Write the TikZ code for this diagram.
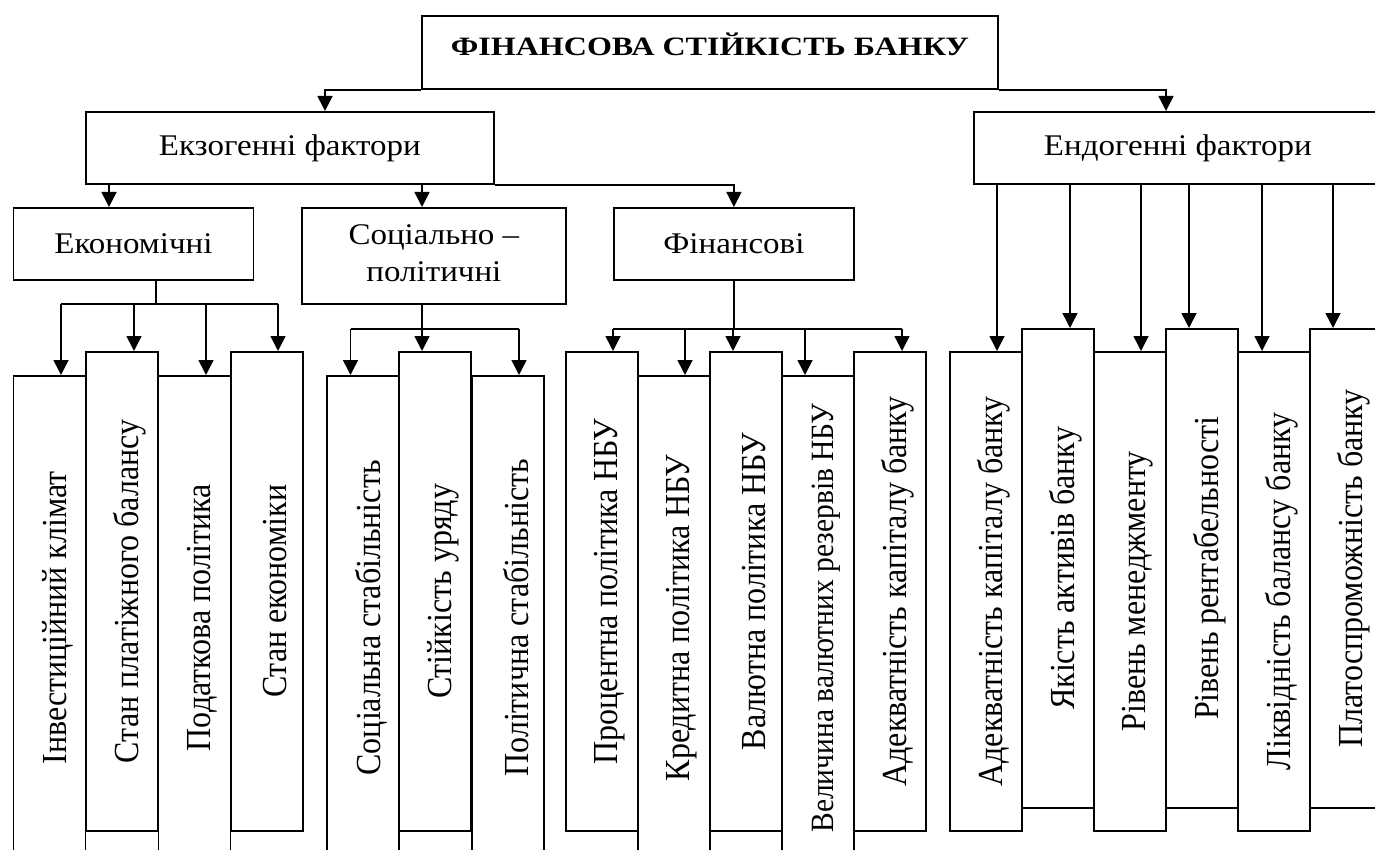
\documentclass[tikz,border=0pt]{standalone}
\usepackage{fontspec}
\setmainfont{Liberation Serif}
\usepackage{graphicx}
\usetikzlibrary{arrows.meta}

\newcommand{\htxt}[1]{\scalebox{1.1}[1]{#1}}
\newcommand{\vtxt}[1]{\hspace{16pt}\scalebox{1.1}[1]{\rotatebox{90}{#1}}}

\tikzset{
  box/.style={draw, line width=1.8pt, inner sep=0pt, anchor=north west, font=\fontsize{30}{37}\selectfont},
  vbox/.style={box, minimum width=72pt, font=\fontsize{32}{38}\selectfont},
  arr/.style={line width=1.5pt, -{Triangle[length=15pt,width=15pt]}},
  ln/.style={line width=1.5pt}
}

\begin{document}
\begin{tikzpicture}[x=1pt, y=-1pt]
 \useasboundingbox (0,0) rectangle (1375,850);
 \clip (0,0) rectangle (1375,850);
  \node[box, minimum width=576pt, minimum height=73pt, text height=18pt, text depth=11pt, font=\fontsize{26.5}{30}\selectfont\bfseries] (top) at (421,15) {\scalebox{1.21}[1]{ФІНАНСОВА СТІЙКІСТЬ БАНКУ}};
  \node[box, minimum width=408pt, minimum height=72pt] (exo) at (85,111) {\htxt{Екзогенні фактори}};
  \node[box, minimum width=408pt, minimum height=72pt] (endo) at (973,111) {\htxt{Ендогенні фактори}};
  \node[box, minimum width=240pt, minimum height=72pt] (eco) at (12.5,207) {\htxt{Економічні}};
  \node[box, minimum width=264pt, minimum height=96pt] (soc) at (301,207) {\htxt{\begin{tabular}{@{}c@{}}Соціально –\\політичні\end{tabular}}};
  \node[box, minimum width=240pt, minimum height=72pt] (fin) at (613,207) {\htxt{Фінансові}};
  \foreach \n/\x/\y/\h/\t in {
    e1/12.5/375/484/Інвестиційний клімат, e2/85/351/479/Стан платіжного балансу,
    e3/157.5/375/484/Податкова політика, e4/230/351/479/Стан економіки,
    s1/326/375/484/Соціальна стабільність, s2/398/351/479/Стійкість уряду,
    s3/471/375/484/Політична стабільність,
    f1/565/351/479/Процентна політика НБУ, f2/637/375/484/Кредитна політика НБУ,
    f3/709/351/479/Валютна політика НБУ,
    f4/781/375/484/{\fontsize{29.5}{35}\selectfont Величина валютних резервів НБУ},
    f5/853/351/479/Адекватність капіталу банку,
    d1/949/351/479/Адекватність капіталу банку, d2/1021/328/479/Якість активів банку,
    d3/1093/351/479/Рівень менеджменту, d4/1165/328/479/Рівень рентабельності,
    d5/1237/351/479/Ліквідність балансу банку, d6/1309/328/479/Платоспроможність банку}
  \node[vbox, minimum height=\h pt] (\n) at (\x,\y) {\vtxt{\t}};
  \draw[arr] (top.south west) -| ([xshift=240pt]exo.north west);
  \draw[arr] (top.south east) -| ([xshift=193pt]endo.north west);
  \draw[arr] (exo.south east) -| (fin.north);
  \draw[arr] ([xshift=24pt]exo.south west) -- ([xshift=96.5pt]eco.north west);
  \draw[arr] ([xshift=337pt]exo.south west) -- ([xshift=121pt]soc.north west);
  \draw[ln] ([xshift=143.5pt]eco.south west) -- ++(0,23) coordinate (eb);
  \foreach \i/\d in {1/48.5,2/49,3/48.5,4/48}{
  \coordinate (ea\i) at ([xshift=\d pt]e\i.north west);
  \draw[arr] (ea\i |- eb) -- (ea\i);
  }
  \draw[ln] (ea1 |- eb) -- (ea4 |- eb);
  \draw[ln] ([xshift=121pt]soc.south west) -- ++(0,24) coordinate (sb);
  \foreach \i/\d in {1/24.5,2/24,3/48}{
  \coordinate (sa\i) at ([xshift=\d pt]s\i.north west);
  \draw[arr] (sa\i |- sb) -- (sa\i);
  }
  \draw[ln] (sa1 |- sb) -- (sa3 |- sb);
  \draw[ln] (fin.south) -- ++(0,48) coordinate (fb);
  \foreach \i/\d in {1/48,2/48,3/24,4/24,5/49}{
  \coordinate (fa\i) at ([xshift=\d pt]f\i.north west);
  \draw[arr] (fa\i |- fb) -- (fa\i);
  }
  \draw[ln] (fa1 |- fb) -- (fa5 |- fb);
  \foreach \i/\d in {1/48,2/49,3/48,4/24,5/25,6/24}{
  \coordinate (da\i) at ([xshift=\d pt]d\i.north west);
  \draw[arr] (da\i |- endo.south) -- (da\i);
  }
 \end{tikzpicture}
\end{document}
